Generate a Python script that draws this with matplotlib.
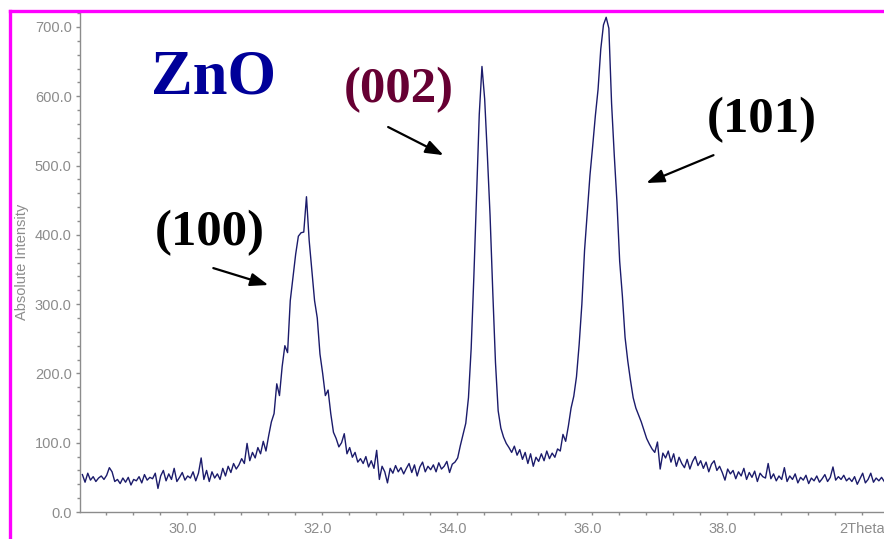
import numpy as np
import matplotlib
matplotlib.use('Agg')
import matplotlib.pyplot as plt
from matplotlib.ticker import MultipleLocator, FixedLocator, FixedFormatter
from matplotlib.lines import Line2D
import matplotlib.transforms as mtransforms

# ---- data (2-theta scan, 0.04 deg step) ----
two_theta_start = 28.45
two_theta_step = 0.04
intensity = [
    54, 43, 56, 46, 51, 44, 49, 52, 47, 53,
    64, 58, 44, 47, 41, 49, 43, 50, 39, 47,
    45, 51, 42, 54, 46, 50, 48, 56, 34, 52,
    60, 45, 55, 47, 63, 44, 50, 57, 46, 52,
    49, 58, 45, 56, 78, 47, 60, 44, 58, 49,
    55, 47, 63, 52, 66, 57, 70, 62, 68, 77,
    70, 99, 74, 86, 78, 93, 84, 102, 88, 110,
    130, 142, 185, 168, 210, 240, 230, 305, 338, 372,
    398, 403, 404, 455, 392, 348, 305, 280, 228, 200,
    168, 176, 142, 115, 106, 94, 100, 113, 84, 93,
    79, 86, 72, 77, 70, 80, 65, 74, 63, 89,
    47, 66, 58, 42, 63, 56, 67, 58, 64, 55,
    63, 70, 57, 68, 52, 65, 72, 58, 66, 61,
    68, 58, 71, 62, 66, 73, 57, 69, 72, 78,
    96, 112, 128, 165, 236, 340, 455, 574, 643, 596,
    515, 428, 318, 216, 146, 121, 108, 99, 93, 86,
    95, 82, 90, 76, 86, 70, 84, 66, 79, 73,
    84, 74, 88, 77, 85, 79, 91, 88, 112, 102,
    124, 150, 167, 195, 242, 300, 378, 433, 486, 528,
    572, 610, 668, 703, 714, 698, 590, 515, 447, 362,
    312, 252, 218, 190, 165, 150, 140, 130, 118, 106,
    98, 91, 86, 101, 62, 85, 78, 88, 72, 84,
    66, 79, 70, 64, 76, 62, 73, 80, 67, 74,
    63, 72, 58, 69, 74, 60, 66, 57, 46, 62,
    55, 60, 48, 58, 52, 63, 47, 57, 50, 59,
    44, 56, 51, 49, 70, 48, 55, 45, 52, 47,
    64, 44, 52, 47, 55, 42, 50, 46, 53, 41,
    49, 45, 52, 43, 48, 54, 44, 50, 65, 46,
    51, 47, 53, 45, 49, 44, 51, 40, 48, 56,
    42, 47, 56, 43, 49, 45, 50, 44,
]
two_theta = two_theta_start + two_theta_step * np.arange(len(intensity))

x_tick_values = [30, 32, 34, 36, 38, 40]
x_tick_labels = ['30.0', '32.0', '34.0', '36.0', '38.0', '2Theta']
y_tick_values = [0, 100, 200, 300, 400, 500, 600, 700]
y_tick_labels = ['0.0', '100.0', '200.0', '300.0', '400.0', '500.0', '600.0', '700.0']
y_label = 'Absolute Intensity'
title_text = 'ZnO'
peak_names = ['(100)', '(002)', '(101)']

# ---- figure ----
W, H = 884, 539
fig = plt.figure(figsize=(W / 100, H / 100), dpi=100, facecolor='white')
ax = fig.add_axes([80 / W, 27 / H, 804 / W, 500 / H])

ax.plot(two_theta, intensity, color='#1b1b6b', lw=1.0)
ax.set_xlim(28.415, 40.326)
ax.set_ylim(0, 721.6)

gray = '#8c8c8c'
for s in ['top', 'right']:
    ax.spines[s].set_visible(False)
for s in ['left', 'bottom']:
    ax.spines[s].set_color(gray)
    ax.spines[s].set_linewidth(1.0)

ax.xaxis.set_major_locator(FixedLocator(x_tick_values))
ax.xaxis.set_major_formatter(FixedFormatter(x_tick_labels))
ax.xaxis.set_minor_locator(MultipleLocator(0.4))
ax.yaxis.set_major_locator(FixedLocator(y_tick_values))
ax.yaxis.set_major_formatter(FixedFormatter(y_tick_labels))
ax.yaxis.set_minor_locator(MultipleLocator(20))

ax.tick_params(axis='both', which='both', color=gray, labelcolor=gray, labelsize=10.5, width=1.0)
ax.tick_params(axis='y', which='major', length=3, pad=3)
ax.tick_params(axis='y', which='minor', length=2)
ax.tick_params(axis='x', which='both', length=2.2, pad=5)
for lab in ax.get_xticklabels() + ax.get_yticklabels():
    lab.set_family('Liberation Sans')
offset = mtransforms.ScaledTranslation(-4 / 100, 0, fig.dpi_scale_trans)
for lab in ax.get_xticklabels()[:-1]:
    lab.set_transform(lab.get_transform() + offset)

ax.set_ylabel(y_label, color=gray, fontsize=10.5, family='Liberation Sans')
ax.yaxis.set_label_coords(-0.0634, 0.5)

# ---- magenta frame ----
mag = '#ff00ff'
fig.add_artist(Line2D([10 / W, 10 / W], [0, 1 - 11 / H], transform=fig.transFigure,
                      color=mag, lw=2.4, solid_capstyle='projecting'))
fig.add_artist(Line2D([10 / W, 1], [1 - 11 / H, 1 - 11 / H], transform=fig.transFigure,
                      color=mag, lw=2.4, solid_capstyle='projecting'))

# ---- texts ----
serif = 'Liberation Serif'
fig.text(214 / W, 1 - 93 / H, title_text, ha='center', va='baseline', fontsize=45,
         fontweight='bold', family=serif, color='#000099')
fig.text(210 / W, 1 - 245 / H, peak_names[0], ha='center', va='baseline', fontsize=36.5,
         fontweight='bold', family=serif, color='black')
fig.text(399 / W, 1 - 102 / H, peak_names[1], ha='center', va='baseline', fontsize=36.5,
         fontweight='bold', family=serif, color='#660033')
fig.text(762 / W, 1 - 132 / H, peak_names[2], ha='center', va='baseline', fontsize=36.5,
         fontweight='bold', family=serif, color='black')

# ---- arrows ----
aprops = dict(arrowstyle='-|>,head_length=0.6,head_width=0.22', lw=1.6, color='black',
              shrinkA=0, shrinkB=0, mutation_scale=18)
ax.annotate('', xy=(31.205, 327.6), xytext=(30.39, 352), arrowprops=aprops)
ax.annotate('', xy=(33.80, 515), xytext=(32.98, 555.6), arrowprops=aprops)
ax.annotate('', xy=(36.805, 474.8), xytext=(37.80, 515), arrowprops=aprops)

fig.savefig('out.png', dpi=100, facecolor='white')
